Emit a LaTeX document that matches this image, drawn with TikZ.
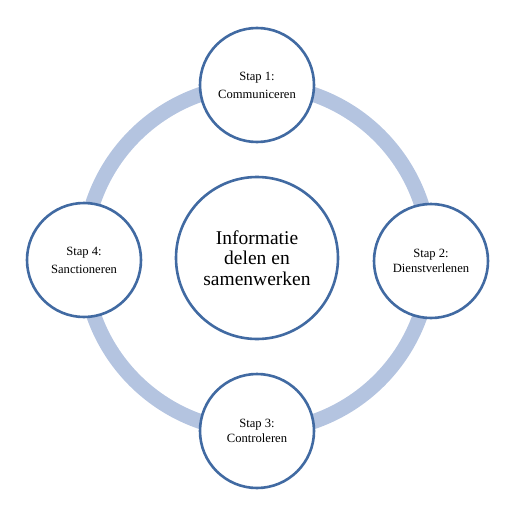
\documentclass[tikz,border=0pt]{standalone}
\usepackage{fontspec}
\setmainfont{Liberation Serif}
\definecolor{ringblue}{RGB}{180, 196, 224}
\definecolor{edgeblue}{RGB}{65, 106, 162}
\usetikzlibrary{positioning}

\begin{document}
\begin{tikzpicture}[
  x=1pt, y=-1pt,
  stapnode/.style={circle, draw=edgeblue, line width=2.6pt, fill=white, minimum size=114pt, inner sep=0pt, align=center, font=\fontsize{12.6}{15}\selectfont},
  midnode/.style={stapnode, minimum size=162pt, font=\fontsize{19.5}{20.5}\selectfont}
]
  \useasboundingbox (0,0) rectangle (511,506);

  % Ring
  \coordinate (mid) at (257, 258);
  \draw[ringblue, line width=15pt] (mid) circle[radius=173];

  % Center
  \node[midnode] (info) at (mid) {Informatie\\delen en\\samenwerken};

  % Steps
  \node[stapnode] (stap1) at (257, 85) {Stap 1:\\[3pt]Communiceren};
  \node[stapnode] (stap2) at (431, 261) {Stap 2:\\Dienstverlenen};
  \node[stapnode] (stap3) at (257, 431) {Stap 3:\\Controleren};
  \node[stapnode] (stap4) at (84, 260) {Stap 4:\\[3pt]Sanctioneren};
\end{tikzpicture}
\end{document}
